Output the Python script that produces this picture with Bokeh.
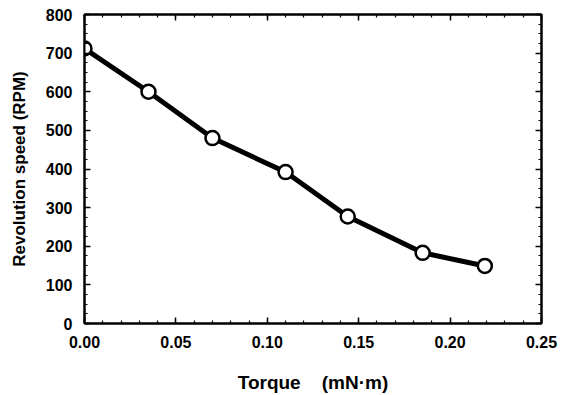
from bokeh.plotting import figure
from bokeh.models import (LinearAxis, SingleIntervalTicker, NumeralTickFormatter,
                          Range1d)
from bokeh.embed import file_html
from bokeh.resources import INLINE

torque = [0.0, 0.035, 0.070, 0.110, 0.144, 0.185, 0.219]
speed = [712, 600, 480, 392, 277, 183, 149]

x_label_text = "Torque\u00a0\u00a0\u00a0\u00a0(mN·m)"
y_label_text = "Revolution speed (RPM)"

FONT = "Liberation Sans"

p = figure(width=562, height=395, output_backend="svg",
           toolbar_location=None, x_range=Range1d(0, 0.25), y_range=Range1d(0, 800),
           min_border_left=84, min_border_right=21, min_border_top=14,
           min_border_bottom=71, x_axis_type=None, y_axis_type=None)
p.background_fill_color = "white"
p.border_fill_color = "white"
p.outline_line_color = "black"
p.outline_line_width = 2

xt = SingleIntervalTicker(interval=0.05, num_minor_ticks=5)
yt = SingleIntervalTicker(interval=100, num_minor_ticks=4)

def style(ax, show_labels):
    ax.axis_line_color = "black"
    ax.axis_line_width = 2
    ax.major_tick_in = 6
    ax.major_tick_out = 0
    ax.minor_tick_in = 3
    ax.minor_tick_out = 0
    ax.major_tick_line_width = 1.5
    ax.minor_tick_line_width = 1.2
    ax.major_tick_line_color = "black"
    ax.minor_tick_line_color = "black"
    if show_labels:
        ax.major_label_text_font = FONT
        ax.major_label_text_font_style = "bold"
        ax.major_label_text_font_size = "16px"
        ax.major_label_text_color = "black"
    else:
        ax.major_label_text_color = None
        ax.major_label_standoff = 0

xb = LinearAxis(ticker=xt, formatter=NumeralTickFormatter(format="0.00"),
                axis_label=x_label_text)
style(xb, True)
xb.major_label_standoff = 12
xb.axis_label_text_font = FONT
xb.axis_label_text_font_style = "bold"
xb.axis_label_text_font_size = "19px"
xb.axis_label_text_color = "black"
xb.axis_label_standoff = 21
p.add_layout(xb, "below")

yl = LinearAxis(ticker=yt, axis_label=y_label_text)
style(yl, True)
yl.major_label_standoff = 12
yl.axis_label_text_font = FONT
yl.axis_label_text_font_style = "bold"
yl.axis_label_text_font_size = "17px"
yl.axis_label_text_color = "black"
yl.axis_label_standoff = 14
p.add_layout(yl, "left")

xa = LinearAxis(ticker=xt)
style(xa, False)
p.add_layout(xa, "above")
yr = LinearAxis(ticker=yt)
style(yr, False)
p.add_layout(yr, "right")

p.xgrid.grid_line_color = None
p.ygrid.ticker = yt
p.ygrid.grid_line_color = "#666666"
p.ygrid.grid_line_dash = "1 8"
p.ygrid.grid_line_width = 1

p.line(torque, speed, line_color="black", line_width=5)
p.scatter(torque, speed, size=14, fill_color="white", line_color="black",
          line_width=2.5)

open("out.html", "w").write(file_html(p, INLINE))
